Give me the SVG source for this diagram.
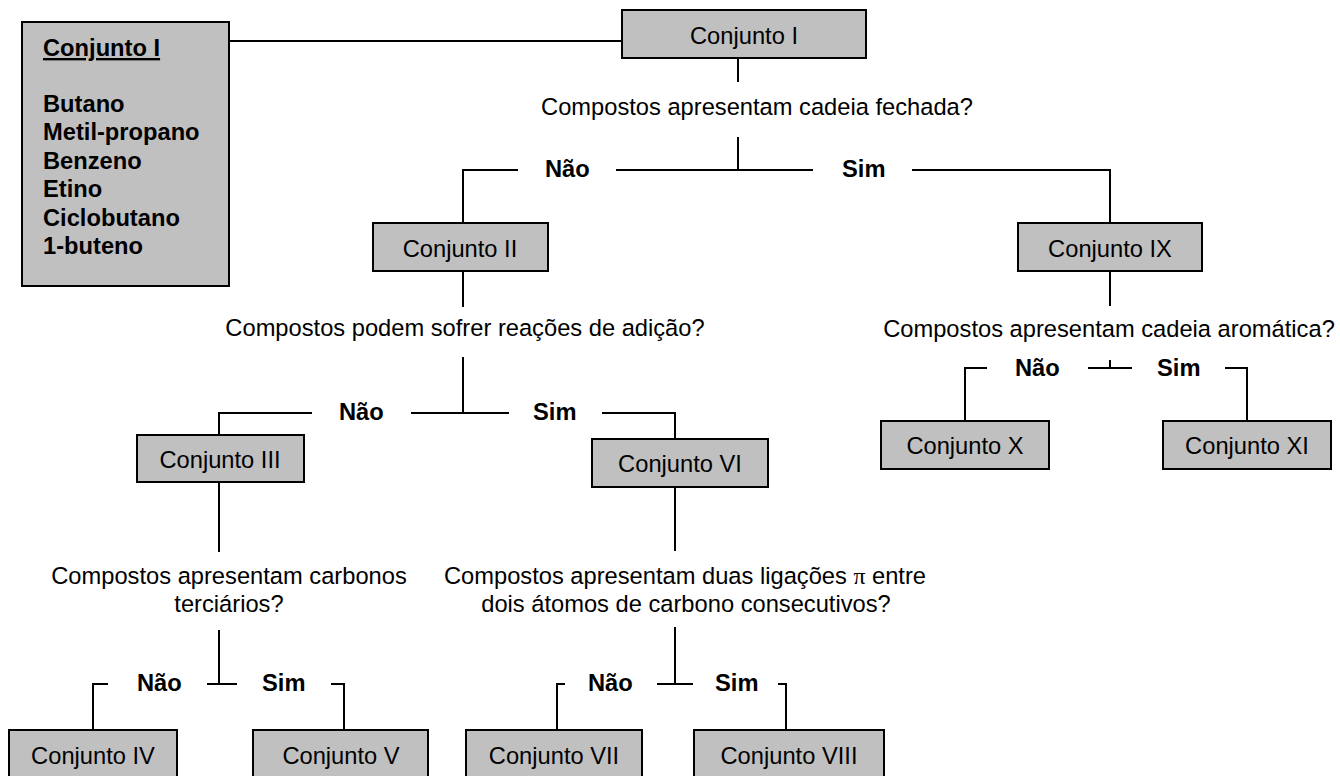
<svg xmlns="http://www.w3.org/2000/svg" width="1340" height="776" viewBox="0 0 1340 776">
<style>
.box{fill:#c0c0c0;stroke:#000;stroke-width:2}
.t{font-family:"Liberation Sans",Arial,sans-serif;font-size:23.7px;fill:#000}
.c{text-anchor:middle}
.b{font-weight:bold}
.ln{fill:none;stroke:#000;stroke-width:2}
</style>
<rect width="1340" height="776" fill="#fff"/>
<g id="connectors" class="ln">
<path d="M229,41 H622"/>
<path d="M738,58 V82"/>
<path d="M738,137 V170"/>
<path d="M616,170 H813"/>
<path d="M518,170 H463 V223"/>
<path d="M912,170 H1110 V223"/>
<path d="M463,271 V307"/>
<path d="M463,357 V413"/>
<path d="M411,413 H509"/>
<path d="M312,413 H219 V435"/>
<path d="M602,413 H675 V439"/>
<path d="M219,482 V552"/>
<path d="M219,630 V684"/>
<path d="M207,684 H237"/>
<path d="M108,684 H93 V730"/>
<path d="M331,684 H344 V730"/>
<path d="M675,487 V551"/>
<path d="M675,627 V684"/>
<path d="M657,684 H693"/>
<path d="M565,684 H557 V730"/>
<path d="M778,684 H786 V730"/>
<path d="M1110,271 V306"/>
<path d="M1110,360 V368"/>
<path d="M1088,368 H1132"/>
<path d="M987,368 H965 V421"/>
<path d="M1225,368 H1247 V421"/>
</g>
<g id="labels" class="t b">
<text x="545" y="177">Não</text>
<text x="842" y="177">Sim</text>
<text x="339" y="420">Não</text>
<text x="533" y="420">Sim</text>
<text x="137" y="691">Não</text>
<text x="262" y="691">Sim</text>
<text x="588" y="691">Não</text>
<text x="715" y="691">Sim</text>
<text x="1015" y="376">Não</text>
<text x="1157" y="376">Sim</text>
</g>
<g id="questions" class="t c">
<text x="757" y="115">Compostos apresentam cadeia fechada?</text>
<text x="465" y="336">Compostos podem sofrer reações de adição?</text>
<text x="1109" y="337">Compostos apresentam cadeia aromática?</text>
<text x="229" y="584">Compostos apresentam carbonos</text>
<text x="229" y="612">terciários?</text>
<text x="685" y="584">Compostos apresentam duas ligações <tspan font-family="'Liberation Serif',serif">π</tspan> entre</text>
<text x="686" y="612">dois átomos de carbono consecutivos?</text>
</g>
<g id="node-list">
<rect class="box" x="22" y="22" width="207" height="264"/>
<text class="t b" x="43" y="56" text-decoration="underline">Conjunto I</text>
<text class="t b" x="43" y="112">Butano</text>
<text class="t b" x="43" y="140">Metil-propano</text>
<text class="t b" x="43" y="169">Benzeno</text>
<text class="t b" x="43" y="197">Etino</text>
<text class="t b" x="43" y="226">Ciclobutano</text>
<text class="t b" x="43" y="254">1-buteno</text>
</g>
<g id="node-I"><rect class="box" x="622" y="10" width="244" height="48"/><text class="t c" x="744" y="44">Conjunto I</text></g>
<g id="node-II"><rect class="box" x="373" y="223" width="175" height="48"/><text class="t c" x="460" y="257">Conjunto II</text></g>
<g id="node-IX"><rect class="box" x="1018" y="223" width="184" height="48"/><text class="t c" x="1110" y="257">Conjunto IX</text></g>
<g id="node-III"><rect class="box" x="137" y="435" width="167" height="47"/><text class="t c" x="220" y="468">Conjunto III</text></g>
<g id="node-VI"><rect class="box" x="592" y="439" width="176" height="48"/><text class="t c" x="680" y="472">Conjunto VI</text></g>
<g id="node-X"><rect class="box" x="881" y="421" width="168" height="48"/><text class="t c" x="965" y="454">Conjunto X</text></g>
<g id="node-XI"><rect class="box" x="1163" y="421" width="168" height="48"/><text class="t c" x="1247" y="454">Conjunto XI</text></g>
<g id="node-IV"><rect class="box" x="9" y="730" width="168" height="50"/><text class="t c" x="93" y="764">Conjunto IV</text></g>
<g id="node-V"><rect class="box" x="253" y="730" width="175" height="50"/><text class="t c" x="341" y="764">Conjunto V</text></g>
<g id="node-VII"><rect class="box" x="466" y="730" width="176" height="50"/><text class="t c" x="554" y="764">Conjunto VII</text></g>
<g id="node-VIII"><rect class="box" x="694" y="730" width="190" height="50"/><text class="t c" x="789" y="764">Conjunto VIII</text></g>
</svg>
